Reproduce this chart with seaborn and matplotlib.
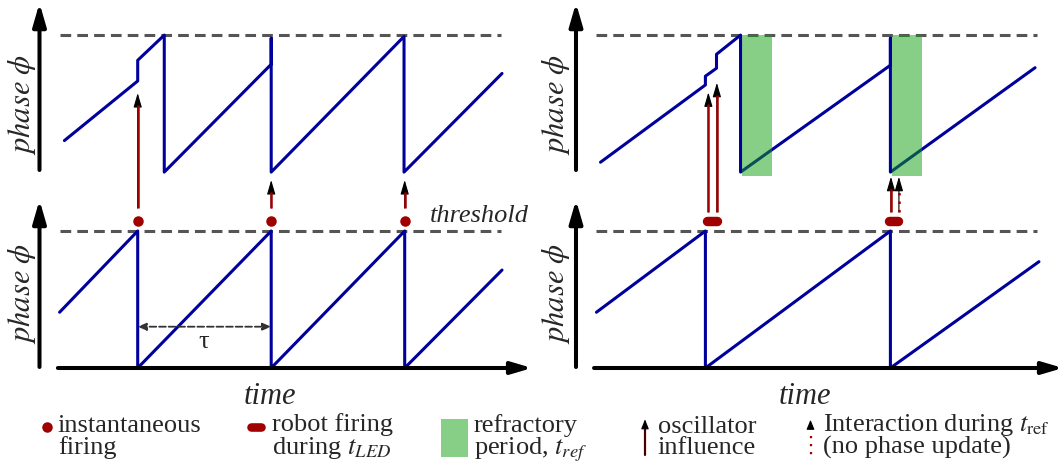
import numpy as np
import matplotlib
matplotlib.use("Agg")
import matplotlib.pyplot as plt
from matplotlib.patches import Rectangle
import seaborn as sns

# ---------------- data ----------------
# Left column: oscillator driven by instantaneous firings (period tau = 1)
left_top_t = [0.451, 1.0, 1.0, 1.199, 1.199, 2.0, 2.0, 2.0, 2.995, 2.995, 3.729]
left_top_phase = [0.23, 0.665, 0.816, 1.0, 0.0, 0.787, 0.977, 0.0, 0.99, 0.0, 0.72]
left_bot_t = [0.415, 1.0, 1.0, 2.0, 2.0, 3.0, 3.0, 3.729]
left_bot_phase = [0.407, 1.0, 0.0, 1.0, 0.0, 1.0, 0.0, 0.715]
left_fire_t = [1.0, 2.0, 3.0]
left_arrow_tip = [0.577, -0.058, -0.058]

# Right column: robot firing lasting t_LED, receiver with refractory period
right_top_t = [0.433, 1.0, 1.0, 1.06, 1.06, 1.19, 1.19, 2.0, 2.0, 2.0, 2.782]
right_top_phase = [0.072, 0.636, 0.70, 0.758, 0.86, 1.0, 0.0, 0.78, 0.977, 0.0, 0.762]
right_bot_t = [0.411, 1.0, 1.0, 2.0, 2.0, 2.803]
right_bot_phase = [0.407, 1.0, 0.0, 1.0, 0.0, 0.776]
right_led_start = [1.01, 1.99]
t_led = 0.05
right_arrow_t = [1.016, 1.062, 2.003]
right_arrow_tip = [0.582, 0.652, -0.034]
right_blocked_t = [2.046]
right_blocked_tip = [-0.034]
refractory_start = [1.198, 2.008]
t_ref = 0.164

# Key entries
key_labels = ["instantaneous\nfiring",
              "robot firing\nduring $t_{LED}$",
              "refractory\nperiod, $t_{ref}$",
              "oscillator\ninfluence",
              "Interaction during $t_{\\mathrm{ref}}$\n(no phase update)"]

# ---------------- style ----------------
sns.set_theme(style="white")
plt.rcParams["font.family"] = ["Liberation Serif", "DejaVu Serif"]
plt.rcParams["mathtext.fontset"] = "stix"

BLUE = "#00009c"
RED = "#a00000"
GREEN = (17 / 255, 160 / 255, 17 / 255)
GRAY = "#555555"

W, H = 1064, 470
fig = plt.figure(figsize=(W / 100, H / 100), dpi=100)

PX_PER_PHASE = 137.0
BASE_PX = 368.0
TOP = 1.43            # vertical offset of the upper oscillator
DOT_Y = (BASE_PX - 221.0) / PX_PER_PHASE
PANEL_H = 400.0
HEAD = 12.0 / PX_PER_PHASE


def panel(x0, x1, px_ref, px_per_t):
    ax = fig.add_axes([x0 / W, (H - PANEL_H) / H, (x1 - x0) / W, PANEL_H / H])
    ax.set_xlim(1 + (x0 - px_ref) / px_per_t, 1 + (x1 - px_ref) / px_per_t)
    ax.set_ylim((BASE_PX - PANEL_H) / PX_PER_PHASE, BASE_PX / PX_PER_PHASE)
    ax.axis("off")
    ax.patch.set_alpha(0)
    return ax


def arrow(ax, p_from, p_to, lw, hl, hw, color="black", ls="-", style="-|>", z=5):
    ax.annotate("", xy=p_to, xytext=p_from, annotation_clip=False,
                arrowprops=dict(arrowstyle=f"{style},head_length={hl},head_width={hw}",
                                lw=lw, color=color, ls=ls, shrinkA=0, shrinkB=0,
                                mutation_scale=7.2), zorder=z)


def influence(ax, t, base, tip, dotted=False):
    arrow(ax, (t, base), (t, tip), 0.8, 1.2, 0.35)
    ls = (0, (1, 2.4)) if dotted else "-"
    ax.plot([t, t], [base, tip - HEAD], color=RED, lw=1.8, ls=ls, zorder=6,
            solid_capstyle="butt")


def frame(ax, t_yaxis, t_x0, t_x1, th0, th1):
    # vertical phase axes (upper and lower oscillator)
    arrow(ax, (t_yaxis, (BASE_PX - 170) / PX_PER_PHASE), (t_yaxis, (BASE_PX - 3) / PX_PER_PHASE),
          2.9, 1.9, 0.55)
    arrow(ax, (t_yaxis, (BASE_PX - 367) / PX_PER_PHASE), (t_yaxis, (BASE_PX - 200) / PX_PER_PHASE),
          2.9, 1.9, 0.55)
    # time axis
    arrow(ax, (t_x0, 0), (t_x1, 0), 2.9, 1.7, 0.5)
    # thresholds
    for y in (1.0, TOP + 1.0):
        ax.plot([th0, th1], [y, y], color=GRAY, lw=2.2, ls=(0, (3.5, 2.0)), zorder=1)


# ---------------- left column ----------------
axL = panel(0, 535, 137.7, 133.5)
frame(axL, 0.2644, 0.402, 3.954, 0.418, 3.721)
sns.lineplot(x=left_bot_t, y=left_bot_phase, sort=False, estimator=None,
             color=BLUE, lw=2.2, ax=axL, legend=False, zorder=2)
sns.lineplot(x=left_top_t, y=np.array(left_top_phase) + TOP, sort=False, estimator=None,
             color=BLUE, lw=2.2, ax=axL, legend=False, zorder=2)
base_L = (BASE_PX - 208) / PX_PER_PHASE
for t, tip in zip(left_fire_t, left_arrow_tip):
    influence(axL, t, base_L, tip + TOP)
sns.scatterplot(x=left_fire_t, y=[DOT_Y] * len(left_fire_t), s=57, color=RED,
                linewidth=0, ax=axL, legend=False, zorder=7, clip_on=False)
# period tau between two firings
tau_y = (BASE_PX - 326.7) / PX_PER_PHASE
arrow(axL, (left_fire_t[0], tau_y), (left_fire_t[1], tau_y), 1.3, 0.7, 0.3,
      color="#333333", ls="--", style="<|-|>")

# ---------------- right column ----------------
axR = panel(535, 1064, 705.4, 185.0)
frame(axR, 0.3005, 0.398, 2.933, 0.409, 2.795)
sns.lineplot(x=right_bot_t, y=right_bot_phase, sort=False, estimator=None,
             color=BLUE, lw=2.2, ax=axR, legend=False, zorder=2)
sns.lineplot(x=right_top_t, y=np.array(right_top_phase) + TOP, sort=False, estimator=None,
             color=BLUE, lw=2.2, ax=axR, legend=False, zorder=2)
for s in refractory_start:
    axR.add_patch(Rectangle((s, TOP - 0.026), t_ref, 1.026, facecolor=GREEN,
                            alpha=0.5, lw=0, zorder=3))
base_R = (BASE_PX - 212) / PX_PER_PHASE
for t, tip in zip(right_arrow_t, right_arrow_tip):
    influence(axR, t, base_R, tip + TOP)
for t, tip in zip(right_blocked_t, right_blocked_tip):
    influence(axR, t, base_R, tip + TOP, dotted=True)
for s in right_led_start:
    axR.plot([s, s + t_led], [DOT_Y, DOT_Y], color=RED, lw=6.8,
             solid_capstyle="round", zorder=7, clip_on=False)

# ---------------- annotations and key (pixel overlay) ----------------
ov = fig.add_axes([0, 0, 1, 1])
ov.set_xlim(0, W)
ov.set_ylim(H, 0)
ov.axis("off")
ov.patch.set_alpha(0)

for x in (21.5, 556):
    for y in (104.5, 293.5):
        ov.text(x, y, r"$phase\ \phi$", rotation=90, ha="center", va="center", fontsize=22)
for x in (269.5, 805):
    ov.text(x, 404, "time", style="italic", ha="center", va="baseline", fontsize=22)
ov.text(430, 222, "threshold", style="italic", va="baseline", fontsize=19)
ov.text(204, 341.7, "τ", ha="center", va="center", fontsize=19)

FS = 19
L2 = 454   # baseline of the second key line
key_x = [57.9, 272, 473.5, 657.7, 823]
for x, lab in zip(key_x, key_labels):
    ov.text(x, L2, lab, va="baseline", fontsize=FS, linespacing=0.93)

ov.scatter([47], [427], s=57, color=RED, lw=0)
ov.plot([250.8, 260.9], [427.3, 427.3], color=RED, lw=6.2, solid_capstyle="round")
ov.add_patch(Rectangle((440.8, 419.3), 27.5, 37.4, facecolor=GREEN, alpha=0.5, lw=0))
arrow(ov, (645, 455), (645, 419.3), 0.8, 0.8, 0.32)
ov.plot([645, 645], [455, 427], color=RED, lw=1.6)
arrow(ov, (810.5, 429), (810.5, 419.8), 0.8, 0.8, 0.33)
ov.plot([810.5, 810.5], [435.5, 456], color=RED, lw=1.6, ls=(0, (1, 2.6)))

fig.savefig("out.png", dpi=100)
